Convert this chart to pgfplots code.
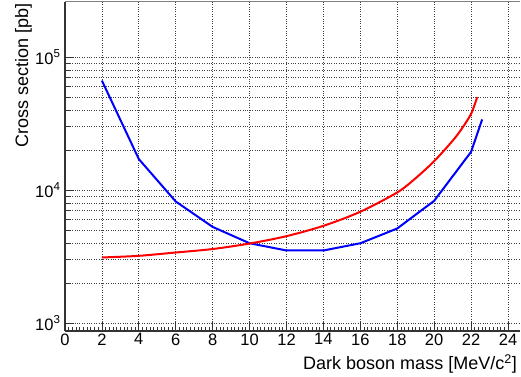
\documentclass[border=0pt]{standalone}
\usepackage{fontspec}
\setmainfont{Liberation Sans}
\usepackage{pgfplots}
\pgfplotsset{compat=1.18}
\begin{document}
\begin{tikzpicture}
\begin{axis}[
  scale only axis,
  width=455pt, height=329pt,
  ymode=log,
  xmin=0, xmax=24.65,
  ymin=870, ymax=2.6e5,
  axis lines*=left,
  axis line style={line width=1.2pt, black!80},
  xtick={0,2,...,24},
  minor x tick num=9,
  ytick={1e3,1e4,1e5},
  yticklabels={10\textsuperscript{3},10\textsuperscript{4},10\textsuperscript{5}},
  /pgf/number format/assume math mode=true,
  tick align=inside,
  major tick length=9pt,
  minor tick length=4.5pt,
  tick style={black!80, line width=0.8pt},
  xmajorgrids, ymajorgrids, yminorgrids,
  major grid style={dotted, black!75, line width=0.7pt},
  minor grid style={dotted, black!75, line width=0.7pt},
  ticklabel style={font=\fontsize{16.5}{18}\selectfont},
  xticklabel style={yshift=1pt},
  yticklabel style={xshift=-1pt},
  xlabel={Dark boson mass [MeV/c\textsuperscript{2}]},
  ylabel={Cross section [pb]},
  every axis x label/.style={at={(rel axis cs:1,0)}, xshift=-3pt, yshift=-23pt, anchor=north east, inner sep=0pt, font=\fontsize{18}{20}\selectfont},
  every axis y label/.style={at={(rel axis cs:0,1)}, xshift=-33pt, yshift=-1pt, rotate=90, anchor=south east, inner sep=0pt, font=\fontsize{18}{20}\selectfont},
  clip=true,
]
\addplot[blue, line width=2pt, sharp plot] coordinates {
(2,66600) (4,17100) (6,8200) (8,5280) (10,3980) (12,3510) (14,3510) (16,3980) (18,5140) (20,8300) (22,19400) (22.6,34000)
};
\addplot[red, line width=2pt, smooth, tension=0.5] coordinates {
(2,3110) (4,3200) (6,3390) (8,3600) (10,3960) (12,4500) (14,5380) (16,6870) (18,9600) (19,12300) (20,16500) (21,23500) (21.5,29000) (22,37500) (22.33,50000)
};
\draw[black!50, line width=1pt] (rel axis cs:0,1) -- (rel axis cs:1,1);
\coordinate (ll) at (rel axis cs:0,0);
\coordinate (ur) at (rel axis cs:1,1);
\end{axis}
\pgfresetboundingbox
\path ([shift={(-65pt,-45pt)}]ll) rectangle ([shift={(1pt,2pt)}]ur);
\end{tikzpicture}
\end{document}
